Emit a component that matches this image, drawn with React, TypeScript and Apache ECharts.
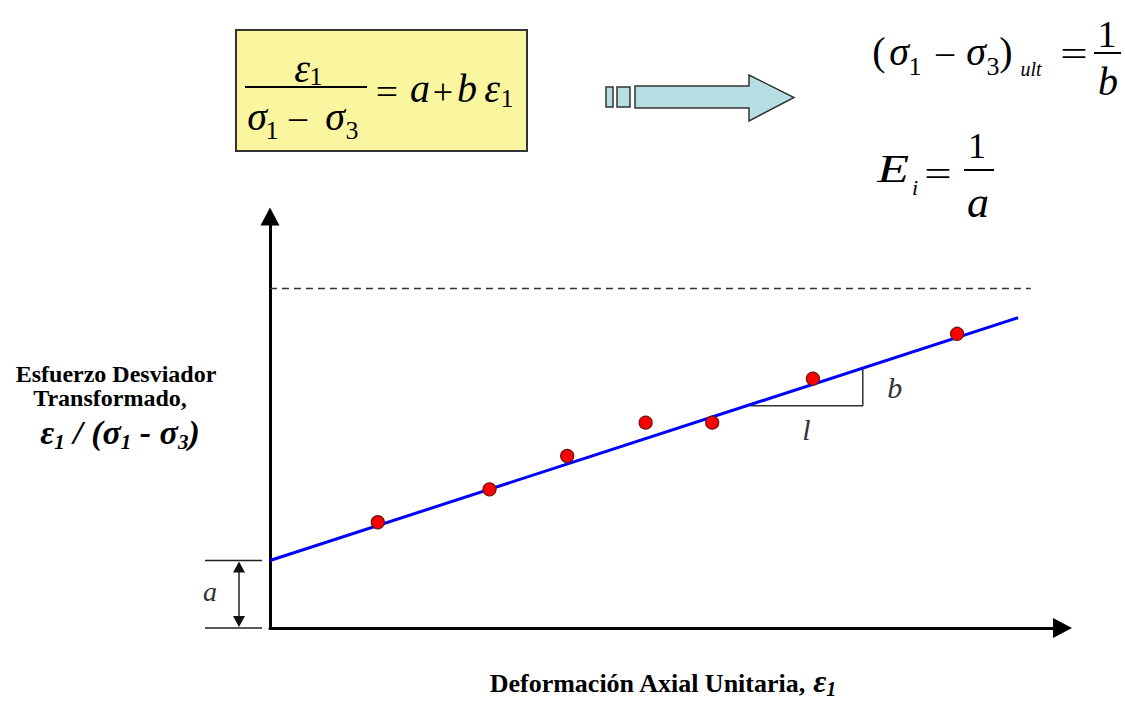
import React, { useEffect, useRef } from 'react';
import * as echarts from 'echarts';

// Test points: axial strain vs transformed deviator stress (arbitrary units)
const strainValues = [1.36, 2.77, 3.75, 4.74, 5.58, 6.85, 8.67];
const transformedStress = [2.57, 3.37, 4.18, 4.99, 4.99, 6.06, 7.15];

// Straight-line fit  eps/(s1-s3) = a + b*eps
const interceptA = 1.64;
const fitLine = [
  [0, 1.64],
  [9.44, 7.54],
];
// Asymptote of the hyperbola (ultimate deviator stress level)
const ultimateLine = [
  [0, 8.25],
  [9.6, 8.25],
];
// Slope triangle: run 1, rise b
const slopeTriangle = [
  [6.06, 5.4],
  [7.48, 5.4],
  [7.48, 6.3],
];

const X_MAX = 10;
const Y_MAX = 10;

const SERIF_FAMILY = 'Liberation Serif';

type TxtOpt = { italic?: boolean; bold?: boolean; color?: string; align?: string; sx?: number };

function cssFont(size: number, o: TxtOpt) {
  return `${o.italic ? 'italic ' : ''}${o.bold ? 'bold ' : ''}${size}px "${SERIF_FAMILY}"`;
}

// text placed by its baseline
function txt(text: string, x: number, baseline: number, size: number, o: TxtOpt = {}) {
  return txtC(text, x, baseline - 0.34 * size, size, o);
}

// text placed by its vertical centre
function txtC(text: string, x: number, y: number, size: number, o: TxtOpt = {}) {
  const align = o.align || 'center';
  return {
    type: 'text',
    x,
    y,
    scaleX: o.sx || 1,
    silent: true,
    z: 10,
    style: {
      text,
      fontFamily: SERIF_FAMILY,
      fontSize: size,
      fontStyle: o.italic ? 'italic' : 'normal',
      fontWeight: o.bold ? 'bold' : 'normal',
      fill: o.color || '#000',
      textAlign: align,
      align,
      textVerticalAlign: 'middle',
      verticalAlign: 'middle',
    },
  };
}

function hline(x1: number, x2: number, y: number, w = 2, color = '#000') {
  return {
    type: 'line',
    silent: true,
    z: 10,
    shape: { x1, y1: y, x2, y2: y },
    style: { stroke: color, lineWidth: w },
  };
}

type Piece = { t: string; size: number; italic?: boolean; bold?: boolean; dy?: number };

let measureCtx: CanvasRenderingContext2D | null = null;
function widthOf(p: Piece) {
  if (!measureCtx) measureCtx = document.createElement('canvas').getContext('2d');
  if (!measureCtx) return p.size * 0.5 * p.t.length;
  measureCtx.font = cssFont(p.size, p);
  return measureCtx.measureText(p.t).width;
}

// lays pieces out left to right, centred on cx
function row(pieces: Piece[], cx: number, baseline: number, color = '#000') {
  const widths = pieces.map(widthOf);
  const total = widths.reduce((a, b) => a + b, 0);
  let x = cx - total / 2;
  return pieces.map((p, i) => {
    const el = txt(p.t, x, baseline + (p.dy || 0), p.size, {
      italic: p.italic,
      bold: p.bold,
      color,
      align: 'left',
    });
    x += widths[i];
    return el;
  });
}

function equationGraphics() {
  const els: any[] = [];
  // yellow box with the transformed hyperbola
  els.push({
    type: 'rect',
    silent: true,
    z: 5,
    shape: { x: 236, y: 30, width: 291, height: 121 },
    style: { fill: '#FAF6A0', stroke: '#333', lineWidth: 2 },
  });
  els.push(txt('ε', 302, 82, 40, { italic: true }));
  els.push(txt('1', 316, 85, 26));
  els.push(hline(245, 367, 87, 2));
  els.push(txt('σ', 257, 130, 40, { italic: true }));
  els.push(txt('1', 272, 139, 26));
  els.push(txtC('−', 298, 120, 36, { sx: 1.1 }));
  els.push(txt('σ', 335, 130, 40, { italic: true }));
  els.push(txt('3', 352, 139, 26));
  els.push(txtC('=', 387, 92, 36, { sx: 1.1 }));
  els.push(txt('a', 420, 102, 40, { italic: true }));
  els.push(txtC('+', 443, 92, 36));
  els.push(txt('b', 467, 102, 40, { italic: true }));
  els.push(txt('ε', 492, 102, 40, { italic: true }));
  els.push(txt('1', 507, 107, 26));

  // block arrow
  const arrowStyle = { fill: '#B7DFE3', stroke: '#333', lineWidth: 1.5 };
  els.push({ type: 'rect', silent: true, shape: { x: 606, y: 87, width: 7, height: 20 }, style: arrowStyle });
  els.push({ type: 'rect', silent: true, shape: { x: 617, y: 87, width: 13, height: 20 }, style: arrowStyle });
  els.push({
    type: 'polygon',
    silent: true,
    shape: {
      points: [
        [635, 86],
        [749, 86],
        [749, 75],
        [794, 97.5],
        [749, 121],
        [749, 108],
        [635, 108],
      ],
    },
    style: arrowStyle,
  });

  // (s1 - s3)ult = 1/b
  els.push(txt('(', 879, 65, 40));
  els.push(txt('σ', 899, 65, 40, { italic: true }));
  els.push(txt('1', 915, 75, 26));
  els.push(txtC('−', 945, 55, 36, { sx: 1.1 }));
  els.push(txt('σ', 976, 65, 40, { italic: true }));
  els.push(txt('3', 993, 75, 26));
  els.push(txt(')', 1006, 65, 40));
  els.push(txt('ult', 1031, 76, 20, { italic: true }));
  els.push(txtC('=', 1074, 54, 36, { sx: 1.35 }));
  els.push(txt('1', 1107, 47, 38));
  els.push(hline(1094, 1121, 53, 2));
  els.push(txt('b', 1108, 95, 40, { italic: true }));

  // Ei = 1/a
  els.push(txt('E', 893, 182, 40, { italic: true, sx: 1.3 }));
  els.push(txt('i', 915, 195, 22, { italic: true }));
  els.push(txtC('=', 938, 174, 36, { sx: 1.35 }));
  els.push(txt('1', 977, 158, 36));
  els.push(hline(964, 994, 170, 2));
  els.push(txt('a', 978, 217, 44, { italic: true }));

  // axis titles
  els.push(txt('Esfuerzo Desviador', 116, 382, 24, { bold: true }));
  els.push(txt('Transformado,', 110, 406, 24, { bold: true }));
  els.push(
    ...row(
      [
        { t: 'ε', size: 34, bold: true, italic: true },
        { t: '1', size: 21, bold: true, italic: true, dy: 5 },
        { t: ' / (', size: 34, bold: true, italic: true },
        { t: 'σ', size: 34, bold: true, italic: true },
        { t: '1', size: 21, bold: true, italic: true, dy: 5 },
        { t: ' - ', size: 34, bold: true, italic: true },
        { t: 'σ', size: 34, bold: true, italic: true },
        { t: '3', size: 21, bold: true, italic: true, dy: 5 },
        { t: ')', size: 34, bold: true, italic: true },
      ],
      120,
      444
    )
  );
  els.push(
    ...row(
      [
        { t: 'Deformación Axial Unitaria, ', size: 26, bold: true },
        { t: 'ε', size: 32, bold: true, italic: true },
        { t: '1', size: 20, bold: true, italic: true, dy: 4 },
      ],
      663,
      692
    )
  );
  return els;
}

export default function App() {
  const ref = useRef<HTMLDivElement>(null);

  useEffect(() => {
    if (!ref.current) return;
    const chart = echarts.init(ref.current, null, { renderer: 'svg' });

    const axisCommon = {
      type: 'value',
      min: 0,
      axisTick: { show: false },
      axisLabel: { show: false },
      splitLine: { show: false },
    };

    chart.setOption({
      animation: false,
      backgroundColor: '#fff',
      grid: { left: 270, top: 216.5, right: 62.5, bottom: 74, outerBoundsMode: 'none' },
      xAxis: {
        ...axisCommon,
        max: X_MAX,
        axisLine: {
          show: true,
          onZero: false,
          symbol: ['none', 'triangle'],
          symbolSize: [20, 19],
          lineStyle: { color: '#000', width: 3 },
        },
      },
      yAxis: {
        ...axisCommon,
        max: Y_MAX,
        axisLine: {
          show: true,
          onZero: false,
          symbol: ['none', 'triangle'],
          symbolSize: [19, 18],
          lineStyle: { color: '#000', width: 3 },
        },
      },
      series: [
        {
          type: 'line',
          data: ultimateLine,
          symbol: 'none',
          silent: true,
          lineStyle: { color: '#333', width: 1.5, type: [7, 5] },
          z: 1,
        },
        {
          type: 'line',
          data: slopeTriangle,
          symbol: 'none',
          silent: true,
          lineStyle: { color: '#333', width: 1.5 },
          z: 1,
        },
        {
          type: 'line',
          data: fitLine,
          symbol: 'none',
          silent: true,
          lineStyle: { color: '#0000FF', width: 3 },
          z: 2,
        },
        {
          type: 'scatter',
          data: strainValues.map((x, i) => [x, transformedStress[i]]),
          symbolSize: 13,
          itemStyle: { color: '#FF0000', borderColor: '#6b1212', borderWidth: 1.2, opacity: 1 },
          z: 3,
        },
      ],
    });

    const px = (x: number, y: number) => chart.convertToPixel({ gridIndex: 0 }, [x, y]) as number[];
    const [axX, yA] = px(0, interceptA);
    const [, y0] = px(0, 0);
    const corner = px(slopeTriangle[1][0], slopeTriangle[1][1]);
    const top = px(slopeTriangle[2][0], slopeTriangle[2][1]);
    const start = px(slopeTriangle[0][0], slopeTriangle[0][1]);

    const dimX = axX - 31;
    const markers: any[] = [
      hline(axX - 65, axX - 8, yA, 1.5, '#222'),
      hline(axX - 65, axX - 8, y0, 1.5, '#222'),
      {
        type: 'line',
        silent: true,
        shape: { x1: dimX, y1: yA + 8, x2: dimX, y2: y0 - 8 },
        style: { stroke: '#222', lineWidth: 1.5 },
      },
      {
        type: 'polygon',
        silent: true,
        shape: { points: [[dimX, yA + 1], [dimX - 6, yA + 12], [dimX + 6, yA + 12]] },
        style: { fill: '#111' },
      },
      {
        type: 'polygon',
        silent: true,
        shape: { points: [[dimX, y0 - 1], [dimX - 6, y0 - 12], [dimX + 6, y0 - 12]] },
        style: { fill: '#111' },
      },
      txt('a', axX - 60, (yA + y0) / 2 + 7, 28, { italic: true, color: '#333' }),
      txt('b', corner[0] + 32, (corner[1] + top[1]) / 2 + 10, 30, { italic: true, color: '#333' }),
      txt('l', (start[0] + corner[0]) / 2, corner[1] + 34, 30, { italic: true, color: '#333' }),
    ];

    chart.setOption({ graphic: { elements: [...equationGraphics(), ...markers] } });

    return () => chart.dispose();
  }, []);

  return (
    <div
      ref={ref}
      style={{ position: 'fixed', left: 0, top: 0, width: 1125, height: 702, background: '#fff' }}
    />
  );
}
